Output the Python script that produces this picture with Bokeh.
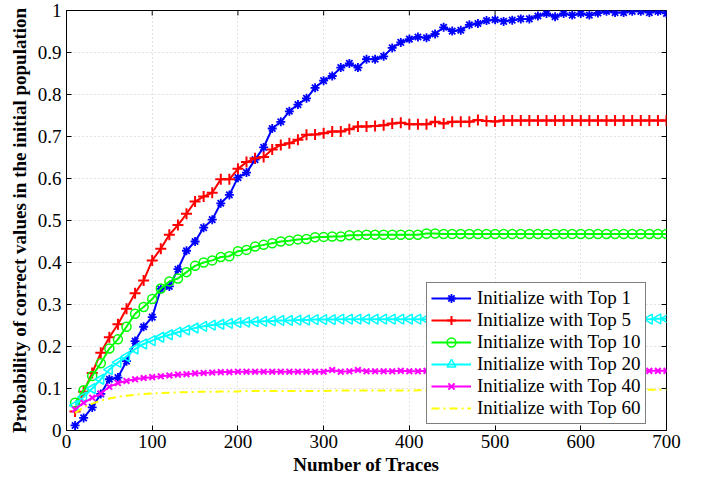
from bokeh.plotting import figure
from bokeh.models import Legend, LegendItem, FixedTicker, Range1d
from bokeh.embed import file_html
from bokeh.resources import INLINE

# ---------------- data ----------------
traces = [10, 20, 30, 40, 50, 60, 70, 80, 90, 100,
          110, 120, 130, 140, 150, 160, 170, 180, 190, 200,
          210, 220, 230, 240, 250, 260, 270, 280, 290, 300,
          310, 320, 330, 340, 350, 360, 370, 380, 390, 400,
          410, 420, 430, 440, 450, 460, 470, 480, 490, 500,
          510, 520, 530, 540, 550, 560, 570, 580, 590, 600,
          610, 620, 630, 640, 650, 660, 670, 680, 690, 700]

top1 = [0.012, 0.030, 0.055, 0.087, 0.122, 0.126, 0.165, 0.213, 0.247, 0.270,
        0.337, 0.343, 0.384, 0.428, 0.450, 0.483, 0.502, 0.541, 0.561, 0.602,
        0.614, 0.645, 0.674, 0.719, 0.735, 0.760, 0.776, 0.791, 0.816, 0.833,
        0.844, 0.864, 0.874, 0.864, 0.884, 0.884, 0.891, 0.911, 0.924, 0.932,
        0.937, 0.935, 0.944, 0.960, 0.951, 0.953, 0.966, 0.969, 0.976, 0.978,
        0.974, 0.977, 0.980, 0.980, 0.987, 0.993, 0.985, 0.993, 0.989, 0.993,
        0.989, 0.994, 0.998, 0.995, 0.995, 0.998, 0.998, 0.995, 0.998, 0.993]

top5 = [0.045, 0.092, 0.137, 0.185, 0.222, 0.253, 0.290, 0.327, 0.357, 0.405,
        0.433, 0.466, 0.489, 0.516, 0.545, 0.557, 0.566, 0.598, 0.598, 0.623,
        0.639, 0.648, 0.651, 0.669, 0.680, 0.684, 0.692, 0.704, 0.705, 0.708,
        0.712, 0.712, 0.717, 0.724, 0.724, 0.725, 0.727, 0.731, 0.733, 0.729,
        0.729, 0.729, 0.735, 0.731, 0.735, 0.735, 0.735, 0.739, 0.737, 0.736,
        0.738, 0.738, 0.738, 0.738, 0.738, 0.738, 0.738, 0.738, 0.738, 0.738,
        0.738, 0.738, 0.738, 0.738, 0.738, 0.738, 0.738, 0.738, 0.738, 0.738]

top10 = [0.066, 0.096, 0.130, 0.160, 0.195, 0.217, 0.247, 0.278, 0.294, 0.313,
         0.338, 0.355, 0.362, 0.377, 0.392, 0.400, 0.405, 0.413, 0.415, 0.427,
         0.430, 0.438, 0.442, 0.446, 0.450, 0.452, 0.455, 0.456, 0.460, 0.461,
         0.462, 0.462, 0.465, 0.465, 0.466, 0.466, 0.466, 0.466, 0.466, 0.466,
         0.466, 0.469, 0.469, 0.468, 0.468, 0.468, 0.468, 0.468, 0.468, 0.468,
         0.468, 0.468, 0.468, 0.468, 0.468, 0.468, 0.468, 0.468, 0.468, 0.468,
         0.468, 0.468, 0.468, 0.468, 0.468, 0.468, 0.468, 0.468, 0.468, 0.468]

top20 = [0.060, 0.080, 0.100, 0.122, 0.145, 0.162, 0.176, 0.194, 0.206, 0.214,
         0.222, 0.228, 0.234, 0.239, 0.244, 0.248, 0.251, 0.253, 0.255, 0.257,
         0.258, 0.259, 0.260, 0.261, 0.262, 0.262, 0.263, 0.263, 0.264, 0.264,
         0.264, 0.265, 0.265, 0.265, 0.265, 0.265, 0.265, 0.265, 0.265, 0.265,
         0.265, 0.265, 0.265, 0.265, 0.265, 0.265, 0.265, 0.265, 0.265, 0.265,
         0.265, 0.265, 0.265, 0.265, 0.265, 0.265, 0.265, 0.265, 0.265, 0.265,
         0.265, 0.265, 0.265, 0.265, 0.265, 0.265, 0.265, 0.265, 0.266, 0.266]

top40 = [0.050, 0.066, 0.078, 0.088, 0.104, 0.113, 0.118, 0.122, 0.125, 0.127,
         0.129, 0.131, 0.133, 0.134, 0.136, 0.137, 0.138, 0.139, 0.139, 0.140,
         0.140, 0.140, 0.140, 0.140, 0.140, 0.140, 0.140, 0.140, 0.140, 0.140,
         0.144, 0.140, 0.141, 0.144, 0.141, 0.141, 0.141, 0.141, 0.142, 0.141,
         0.141, 0.142, 0.142, 0.142, 0.141, 0.142, 0.142, 0.142, 0.141, 0.142,
         0.142, 0.142, 0.142, 0.142, 0.142, 0.142, 0.142, 0.142, 0.142, 0.142,
         0.142, 0.142, 0.142, 0.142, 0.142, 0.142, 0.142, 0.142, 0.142, 0.142]

top60 = [0.042, 0.055, 0.064, 0.071, 0.076, 0.080, 0.083, 0.085, 0.087, 0.088,
         0.089, 0.090, 0.091, 0.091, 0.092, 0.092, 0.092, 0.093, 0.093, 0.093,
         0.094, 0.094, 0.094, 0.094, 0.094, 0.094, 0.094, 0.094, 0.094, 0.094,
         0.095, 0.095, 0.095, 0.095, 0.095, 0.095, 0.095, 0.095, 0.095, 0.095,
         0.096, 0.096, 0.096, 0.096, 0.096, 0.096, 0.096, 0.096, 0.096, 0.096,
         0.096, 0.096, 0.096, 0.096, 0.096, 0.097, 0.097, 0.097, 0.097, 0.097,
         0.097, 0.097, 0.097, 0.097, 0.097, 0.097, 0.097, 0.097, 0.097, 0.097]

x_ticks = [0, 100, 200, 300, 400, 500, 600, 700]
y_ticks = [0, 0.1, 0.2, 0.3, 0.4, 0.5, 0.6, 0.7, 0.8, 0.9, 1]
labels = ["Initialize with Top 1", "Initialize with Top 5", "Initialize with Top 10",
          "Initialize with Top 20", "Initialize with Top 40", "Initialize with Top 60"]

FONT = "Liberation Serif"
X0, X1, Y0, Y1 = 0, 700, 0, 1
B_LEFT, B_RIGHT, B_TOP, B_BOTTOM = 66, 27, 10, 44
W, H = 693, 477
FRAME_W = W - B_LEFT - B_RIGHT
FRAME_H = H - B_TOP - B_BOTTOM

p = figure(width=W, height=H, x_range=Range1d(X0, X1), y_range=Range1d(Y0, Y1),
           output_backend="svg", toolbar_location=None,
           min_border_left=B_LEFT, min_border_right=B_RIGHT,
           min_border_top=B_TOP, min_border_bottom=B_BOTTOM,
           background_fill_color="white", border_fill_color="white")

p.outline_line_color = "black"
p.outline_line_width = 1

# main axes (ticks inside)
p.xaxis.ticker = FixedTicker(ticks=x_ticks)
p.yaxis.ticker = FixedTicker(ticks=y_ticks)
p.yaxis.major_label_overrides = {0: "0", 1: "1"}
for ax in (p.xaxis[0], p.yaxis[0]):
    ax.major_tick_in = 5
    ax.major_tick_out = 0
    ax.minor_tick_line_color = None
    ax.axis_line_color = "black"
    ax.major_tick_line_color = "black"
    ax.major_label_text_font = FONT
    ax.major_label_text_font_size = "19px"
    ax.major_label_text_line_height = 1.0
    ax.major_label_text_color = "black"
    ax.axis_label_text_font = FONT
    ax.axis_label_text_font_size = "19px"
    ax.axis_label_text_line_height = 1.0
    ax.axis_label_text_font_style = "bold"
    ax.axis_label_text_color = "black"
p.xaxis.axis_label = "Number of Traces"
p.yaxis.axis_label = "Probability of correct values in the initial population"
p.xaxis.major_label_standoff = 4
p.xaxis.axis_label_standoff = 3
p.yaxis.major_label_standoff = 5
p.yaxis.axis_label_standoff = 5

# inside tick marks on the top and right edges of the box
tick_dx = (X1 - X0) * 5.0 / FRAME_W
tick_dy = (Y1 - Y0) * 5.0 / FRAME_H
p.segment(x0=x_ticks, y0=[Y1] * len(x_ticks), x1=x_ticks, y1=[Y1 - tick_dy] * len(x_ticks),
          line_color="black", line_width=1)
p.segment(x0=[X1] * len(y_ticks), y0=y_ticks, x1=[X1 - tick_dx] * len(y_ticks), y1=y_ticks,
          line_color="black", line_width=1)

# grid
p.xgrid.ticker = FixedTicker(ticks=x_ticks)
p.ygrid.ticker = FixedTicker(ticks=y_ticks)
for g in (p.xgrid[0], p.ygrid[0]):
    g.grid_line_color = "#c8c8c8"
    g.grid_line_dash = "1 3"
    g.grid_line_width = 1

items = []

l1 = p.line(traces, top1, line_color="#0000ff", line_width=2)
s1 = p.scatter(traces, top1, marker="asterisk", size=9, line_color="#0000ff", line_width=1.8)
items.append(LegendItem(label=labels[0], renderers=[l1, s1]))

l2 = p.line(traces, top5, line_color="#ff0000", line_width=2)
s2 = p.scatter(traces, top5, marker="cross", size=11, line_color="#ff0000", line_width=2)
items.append(LegendItem(label=labels[1], renderers=[l2, s2]))

l3 = p.line(traces, top10, line_color="#00ff00", line_width=2)
s3 = p.scatter(traces, top10, marker="circle", size=9, line_color="#00ff00", fill_color=None, line_width=1.5)
items.append(LegendItem(label=labels[2], renderers=[l3, s3]))

l4 = p.line(traces, top20, line_color="#00ffff", line_width=2)
s4 = p.scatter(traces, top20, marker="triangle", size=10, angle=90, angle_units="deg",
               line_color="#00ffff", fill_color=None, line_width=1.5)
items.append(LegendItem(label=labels[3], renderers=[l4, s4]))

l5 = p.line(traces, top40, line_color="#ff00ff", line_width=2)
s5 = p.scatter(traces, top40, marker="x", size=8, line_color="#ff00ff", line_width=2)
items.append(LegendItem(label=labels[4], renderers=[l5, s5]))

l6 = p.line(traces, top60, line_color="#ffff00", line_width=2, line_dash="8 4 2 4")
items.append(LegendItem(label=labels[5], renderers=[l6]))

legend = Legend(items=items, location=(360, 6), margin=0, padding=4, spacing=0,
                glyph_width=40, glyph_height=22, label_height=22, label_standoff=6,
                label_text_font=FONT, label_text_font_size="19px", label_text_color="black",
                border_line_color="black", border_line_width=1,
                background_fill_color="white", background_fill_alpha=1)
p.add_layout(legend, "center")

open("out.html", "w").write(file_html(p, INLINE))
